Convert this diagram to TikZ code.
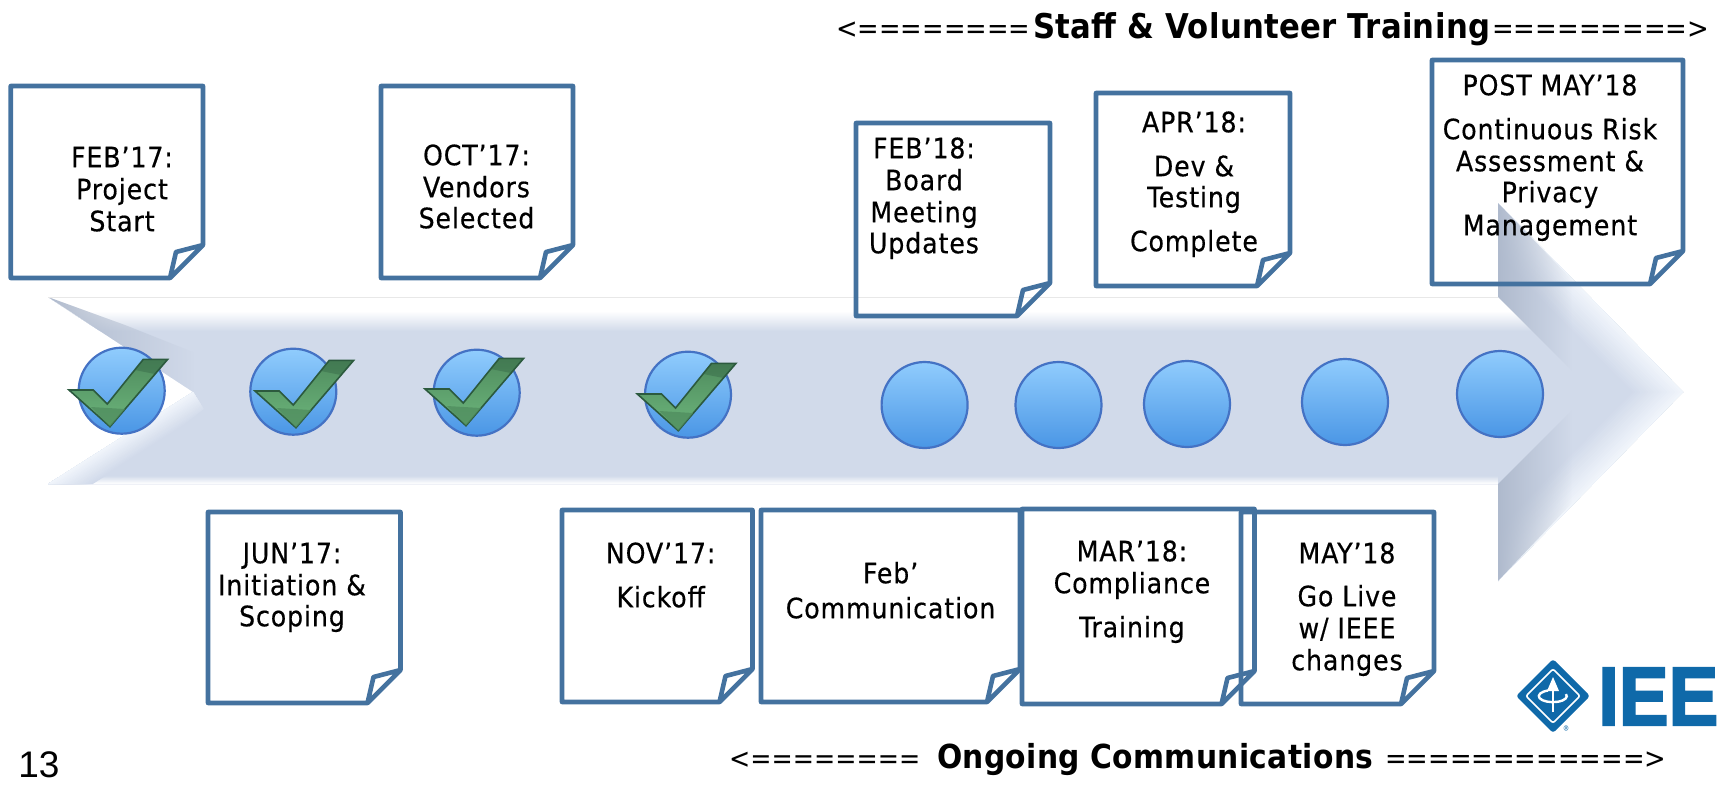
\documentclass[tikz,border=0pt]{standalone}
\usepackage{fontspec}
\usepackage{graphicx}
\usetikzlibrary{fadings}
\setmainfont[LetterSpace=3.3,FakeBold=.5]{DejaVu Sans Condensed}
\newfontfamily\chevf[LetterSpace=0]{DejaVu Sans Condensed}
\newfontfamily\boldf[LetterSpace=1]{DejaVu Sans Condensed Bold}
\newfontfamily\arialf{Liberation Sans}
\newfontfamily\logof[FakeBold=2.5]{Liberation Sans Bold}
\definecolor{bodyc}{HTML}{D1DAEA}
\definecolor{greyc}{HTML}{AFBACD}
\definecolor{edgec}{HTML}{F2F6FC}
\definecolor{notec}{HTML}{44729F}
\definecolor{logoc}{HTML}{0F69A9}
\definecolor{dotedge}{HTML}{4472C4}
\definecolor{chkdark}{HTML}{2C5A3E}
\definecolor{HiTop}{HTML}{90CCFD}
\definecolor{HiBot}{HTML}{4A96E5}
\definecolor{chkL}{HTML}{4F8C5E}
\definecolor{chkR}{HTML}{6DB67C}
\tikzfading[name=fadeR,left color=transparent!0,right color=transparent!100]
\newcommand{\arrowshape}{(48,297)--(1498,297)--(1498,203)--(1683,392)--(1498,581)--(1498,484)--(48,484)--(193,392)--cycle}
\newcommand{\fadeband}[4]{%
  \begin{scope}\clip \arrowshape; \clip #1;
  \foreach \i [evaluate=\i as \p using int(100-5*\i)] in {20,19,...,1}
    \draw[line width={2*#3*\i/20}, color=#4!\p!bodyc, line cap=butt] #2;
  \end{scope}}
\newcommand{\notebox}[8]{%
  \draw[notestroke] (#2,#3)--(#4,#3)--(#4,#5-33)--(#4-33,#5)--(#2,#5)--cycle
    (#4,#5-33)--(#4-27,#5-26)--(#4-33,#5);
  \node[notetext] (#1) at (#6,#7-24) {\rule{0pt}{24pt}#8};}
\newcommand{\bannerpart}[2]{\resizebox{#1pt}{!}{#2}}
\tikzset{
  x=1pt,y=-1pt,
  notestroke/.style={draw=notec,line width=4.6pt,line join=round},
  notetext/.style={anchor=north,inner sep=0pt,align=center,text=black,
    font=\fontsize{28}{32}\selectfont},
  dot/.style={circle,inner sep=0pt,minimum size=86pt,draw=dotedge,line width=2.2pt,
    top color=HiTop,bottom color=HiBot},
  banner/.style={anchor=base west,inner sep=0pt,text=black,font=\fontsize{33}{36}\selectfont},
  chk/.pic={
    \path[left color=chkL,right color=chkR,shading angle=0,draw=chkdark,line width=1.6pt,line join=miter]
      (0,0)--(24.3,0)--(38.3,14)--(74.3,-30.7)--(98.7,-30.7)--(41,36.7)--cycle;
    \fill[chkL,opacity=.75] (22,17)--(41,36.7)--(56,19)--cycle;
    \fill[chkdark,opacity=.35] (74.3,-30.7)--(98.7,-30.7)--(86,-16)--(66,-20)--cycle;
  }
}
\begin{document}
\begin{tikzpicture}
\useasboundingbox (0,0) rectangle (1722,785);
% ---- arrow
\fill[bodyc] \arrowshape;
% head edges
\fadeband{(1498,203)--(1683,392)--(1498,392)--cycle}{(1498,203)--(1683,392)}{38}{edgec}
\fadeband{(1498,581)--(1683,392)--(1498,392)--cycle}{(1683,392)--(1498,581)}{38}{edgec}
% top band
\fadeband{(48,297)--(1498,297)--(1546,345)--(48,345)--cycle}{(40,312)--(1560,312)}{20}{white}
\fill[white] (48,297)--(1498,297)--(1513,312)--(71,312)--cycle;
% bottom band
\fadeband{(40,440) rectangle (1498,490)}{(40,484)--(1498,484)}{8}{white}
% grey faces of the head
\begin{scope}
\clip (1498,203)--(1498,297)--(1572,371)--(1660,371)--cycle;
\fill[greyc,path fading=fadeR] (1498,195) rectangle (1572,380);
\end{scope}
\begin{scope}
\clip (1498,581)--(1498,484)--(1572,410)--(1660,410)--cycle;
\fill[greyc,path fading=fadeR] (1498,400) rectangle (1572,590);
\end{scope}
% tail
\begin{scope}
\clip (48,297)--(193,392)--(193,352)--(125,325)--cycle;
\fill[greyc,path fading=fadeR] (48,290) rectangle (195,395);
\end{scope}
\fadeband{(48,484)--(193,392)--(225,392)--(110,484)--cycle}{(48,484)--(193,392)}{24}{edgec}
\draw[line width=1pt,color=black!9] (48,297)--(1498,297);
% ---- milestones
\node[dot] (d1) at (121.7,390.7) {};
\node[dot] (d2) at (293.3,391.7) {};
\node[dot] (d3) at (476.7,392.7) {};
\node[dot] (d4) at (688,394.7) {};
\node[dot] (d5) at (924.6,405) {};
\node[dot] (d6) at (1058.5,405) {};
\node[dot] (d7) at (1187,404) {};
\node[dot] (d8) at (1345,402) {};
\node[dot] (d9) at (1500,394) {};
\pic at (69,390) {chk};
\pic at (255,391) {chk};
\pic at (425,389) {chk};
\pic at (637.3,394) {chk};
% ---- notes
\notebox{n1}{10.7}{86}{203}{278}{122}{167}{FEB’17:\\Project\\Start}
\notebox{n2}{381}{86}{573}{278}{476.5}{165}{OCT’17:\\Vendors\\[-1pt]Selected}
\notebox{n3}{856}{123}{1050}{316}{924}{158}{FEB’18:\\Board\\Meeting\\[-1pt]Updates}
\notebox{n4}{1096}{93}{1290}{286}{1194}{132}{APR’18:\\[12pt]Dev \&\\[-1pt]Testing\\[12pt]Complete}
\notebox{n5}{1432}{60}{1683}{284}{1550}{95}{POST MAY’18\\[12pt]Continuous Risk\\Assessment \&\\[-1pt]Privacy\\[1pt]Management}
\notebox{n6}{208}{512}{400.5}{703}{292}{563}{JUN’17:\\Initiation \&\\[-1pt]Scoping}
\notebox{n7}{562}{510}{752.5}{702}{660.7}{563}{NOV’17:\\[12pt]Kickoff}
\notebox{n8}{761}{510}{1020}{702}{890.6}{583}{Feb’\\[3pt]Communication}
\notebox{n9}{1022}{509}{1254.5}{704}{1132}{561}{MAR’18:\\Compliance\\[12pt]Training}
\notebox{n10}{1241}{512}{1434}{704}{1347}{563}{MAY’18\\[11pt]Go Live\\w/ IEEE\\changes}
% ---- banners
\node[banner] (staff) at (836,38) {\bannerpart{194}{\chevf <========}\hspace{3pt}\bannerpart{457}{\boldf Staff \& Volunteer Training}\hspace{2pt}\bannerpart{217}{\chevf =========>}};
\node[banner] (ongoing) at (729,768) {\bannerpart{191}{\chevf <========}\hspace{17pt}\bannerpart{436}{\boldf Ongoing Communications}\hspace{12pt}\bannerpart{281}{\chevf ============>}};
\node[anchor=base,inner sep=0pt] (page) at (39,777) {\fontsize{37}{40}\arialf\selectfont 13};
% ---- logo
\fill[logoc,rounded corners=3pt] (1516,696)--(1553,659)--(1590,696)--(1553,733)--cycle;
\draw[white,line width=1.6pt,rounded corners=2pt] (1526,696)--(1553,669)--(1580,696)--(1553,723)--cycle;
\draw[white,line width=2.6pt] (1553,712)--(1553,685);
\fill[white] (1553,677)--(1559,691)--(1547,691)--cycle;
\draw[white,line width=2.4pt] (1548,690.5) arc[start angle=250,end angle=-20,x radius=14,y radius=6];
\node[inner sep=0pt,text=logoc!60] (reg) at (1566,728) {\fontsize{7}{8}\selectfont ®};
\node[anchor=base west,inner sep=0pt,text=logoc] (ieee) at (1598,725) {\resizebox*{120pt}{57pt}{\fontsize{80}{80}\logof\selectfont IEE}};
\end{tikzpicture}
\end{document}
